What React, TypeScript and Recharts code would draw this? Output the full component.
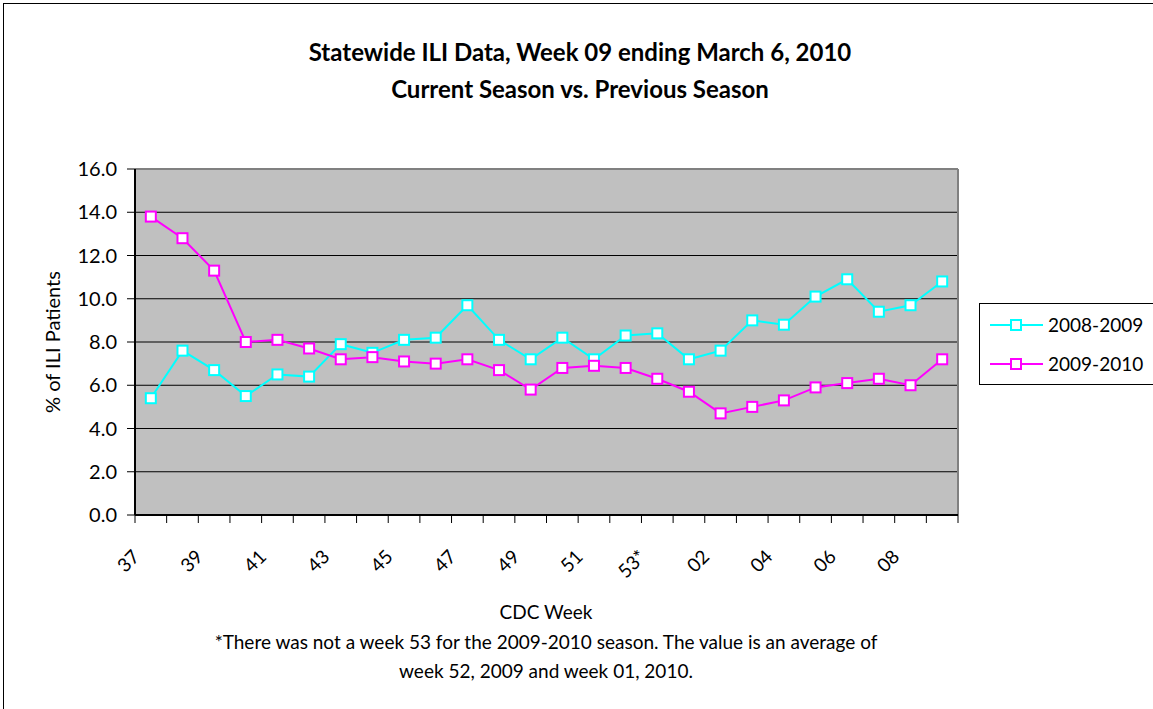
import React from 'react';
import { LineChart, Line, XAxis, YAxis, CartesianGrid, ReferenceLine } from 'recharts';

const weeks = ['37', '38', '39', '40', '41', '42', '43', '44', '45', '46', '47', '48', '49', '50', '51', '52', '53*', '01', '02', '03', '04', '05', '06', '07', '08', '09'];
const season0809 = [5.4, 7.6, 6.7, 5.5, 6.5, 6.4, 7.9, 7.5, 8.1, 8.2, 9.7, 8.1, 7.2, 8.2, 7.2, 8.3, 8.4, 7.2, 7.6, 9.0, 8.8, 10.1, 10.9, 9.4, 9.7, 10.8];
const season0910 = [13.8, 12.8, 11.3, 8.0, 8.1, 7.7, 7.2, 7.3, 7.1, 7.0, 7.2, 6.7, 5.8, 6.8, 6.9, 6.8, 6.3, 5.7, 4.7, 5.0, 5.3, 5.9, 6.1, 6.3, 6.0, 7.2];
const yTicks = [0, 2, 4, 6, 8, 10, 12, 14, 16];
const seriesNames = ['2008-2009', '2009-2010'];
const seriesColors = ['#00FFFF', '#FF00FF'];
const titleLines = ['Statewide ILI Data, Week 09 ending March 6, 2010', 'Current Season vs. Previous Season'];
const footnoteLines = ['*There was not a week 53 for the 2009-2010 season. The value is an average of', 'week 52, 2009 and week 01, 2010.'];

const data = weeks.map((w, i) => ({ idx: i, week: w, s0809: season0809[i], s0910: season0910[i] }));
const boundaryTicks = weeks.map((_, i) => i - 0.5).concat([weeks.length - 0.5]);
const labelTicks = weeks.map((_, i) => i).filter((i) => i % 2 === 0);
const xDomain = [-0.5, weeks.length - 0.5];

const FONT = 'Lato, "Noto Sans", sans-serif';

const SquareDot = (color: string) => (props: any) => {
  const { cx, cy, index } = props;
  if (cx == null || cy == null) return <g key={index} />;
  return <rect key={index} x={cx - 5} y={cy - 5} width={10} height={10} fill="#FFFFFF" stroke={color} strokeWidth={2} />;
};

const EmptyTick = () => <g />;

const XLabelTick = (props: any) => {
  const { x, y, payload } = props;
  const i = Math.round(payload.value);
  const ax = x - 10;
  const ay = y + 42;
  return (
    <text x={ax} y={ay} textAnchor="end" fontSize={19} fontFamily={FONT} fill="#000" transform={`rotate(-45 ${ax} ${ay})`}>
      {weeks[i]}
    </text>
  );
};

const YTick = (props: any) => {
  const { x, y, payload } = props;
  return (
    <text x={x} y={y} dy="0.35em" textAnchor="end" fontSize={20} fontFamily={FONT} fill="#000">
      {Number(payload.value).toFixed(1)}
    </text>
  );
};

const abs = (extra: React.CSSProperties): React.CSSProperties => ({ position: 'absolute', fontFamily: FONT, color: '#000', whiteSpace: 'nowrap', ...extra });

export default function App() {
  return (
    <div style={{ position: 'absolute', left: 0, top: 0, width: 1153, height: 709, overflow: 'hidden', background: '#FFFFFF' }}>
      <div style={{ position: 'absolute', left: 3, top: 3, width: 1200, height: 760, border: '1px solid #000', boxSizing: 'border-box' }} />
      <div style={{ position: 'absolute', left: 0, top: 0 }}>
        <LineChart width={1153} height={709} data={data} margin={{ top: 169, right: 195, bottom: 133, left: 75 }}>
          <CartesianGrid xAxisId="a" vertical={false} horizontal={true} stroke="#000000" fill="#C0C0C0" fillOpacity={1} />
          <XAxis
            xAxisId="a"
            dataKey="idx"
            type="number"
            domain={xDomain}
            ticks={boundaryTicks}
            tick={<EmptyTick />}
            tickLine={{ stroke: '#000', strokeWidth: 1 }}
            tickSize={8}
            axisLine={{ stroke: '#000', strokeWidth: 2 }}
            height={1}
            interval={0}
            allowDataOverflow
          />
          <XAxis
            xAxisId="b"
            dataKey="idx"
            type="number"
            domain={xDomain}
            ticks={labelTicks}
            tick={<XLabelTick />}
            tickLine={false}
            tickSize={0}
            tickMargin={0}
            axisLine={false}
            height={60}
            interval={0}
            allowDataOverflow
          />
          <YAxis
            domain={[0, 16]}
            ticks={yTicks}
            width={60}
            tick={<YTick />}
            tickLine={{ stroke: '#000' }}
            tickSize={8}
            tickMargin={10}
            axisLine={{ stroke: '#000', strokeWidth: 2 }}
            interval={0}
          />
          <ReferenceLine xAxisId="a" y={16} stroke="#808080" strokeWidth={2} />
          <ReferenceLine xAxisId="a" x={weeks.length - 0.5} stroke="#808080" strokeWidth={2} />
          <Line
            xAxisId="a"
            type="linear"
            dataKey="s0809"
            name={seriesNames[0]}
            stroke={seriesColors[0]}
            strokeWidth={2}
            dot={SquareDot(seriesColors[0])}
            activeDot={false}
            isAnimationActive={false}
          />
          <Line
            xAxisId="a"
            type="linear"
            dataKey="s0910"
            name={seriesNames[1]}
            stroke={seriesColors[1]}
            strokeWidth={2}
            dot={SquareDot(seriesColors[1])}
            activeDot={false}
            isAnimationActive={false}
          />
        </LineChart>
      </div>

      {titleLines.map((t, i) => (
        <div key={t} style={abs({ left: 0, width: 1160, top: 35 + i * 37, height: 34, lineHeight: '34px', textAlign: 'center', fontSize: 24, fontWeight: 700 })}>
          {t}
        </div>
      ))}

      <div style={abs({ left: 52, top: 342, fontSize: 20, transform: 'translate(-50%, -50%) rotate(-90deg)' })}>% of ILI Patients</div>

      <div style={abs({ left: 346, width: 400, top: 599, height: 26, lineHeight: '26px', textAlign: 'center', fontSize: 19 })}>CDC Week</div>
      {footnoteLines.map((t, i) => (
        <div key={t} style={abs({ left: 146, width: 800, top: 629 + i * 29, height: 26, lineHeight: '26px', textAlign: 'center', fontSize: 19 })}>
          {t}
        </div>
      ))}

      <div style={abs({ left: 979, top: 303, width: 200, height: 82, border: '1px solid #000', background: '#FFFFFF', boxSizing: 'border-box' })}>
        {seriesNames.map((n, i) => (
          <div key={n} style={{ position: 'absolute', left: 0, top: 8 + i * 39, height: 26, display: 'flex', alignItems: 'center' }}>
            <svg width={68} height={26} style={{ display: 'block' }}>
              <line x1={10} y1={13} x2={63} y2={13} stroke={seriesColors[i]} strokeWidth={2} />
              <rect x={31} y={8} width={10} height={10} fill="#FFFFFF" stroke={seriesColors[i]} strokeWidth={2} />
            </svg>
            <span style={{ fontSize: 19, lineHeight: '26px' }}>{n}</span>
          </div>
        ))}
      </div>
    </div>
  );
}
